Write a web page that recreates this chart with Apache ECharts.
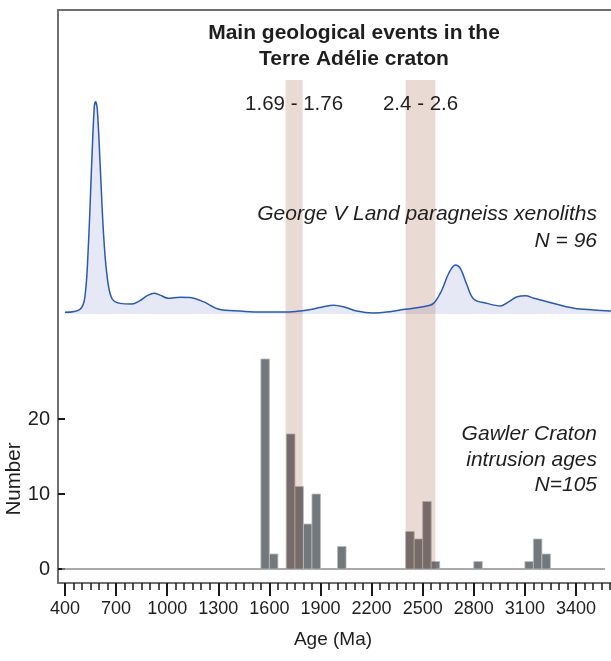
<!DOCTYPE html>
<html>
<head>
<meta charset="utf-8">
<script src="https://cdn.jsdelivr.net/npm/echarts@6/dist/echarts.min.js"></script>
<style>
  html, body { margin: 0; padding: 0; background: #ffffff; }
  #chart { width: 611px; height: 661px; }
</style>
</head>
<body>
<div id="chart"></div>
<script>
// Gawler Craton intrusion ages, histogram with 50 Ma bins (bin start, Ma)
const binStart = [1550, 1600, 1700, 1750, 1800, 1850, 2000, 2400, 2450, 2500, 2550, 2800, 3100, 3150, 3200];
const binCount = [28, 2, 18, 11, 6, 10, 3, 5, 4, 9, 1, 1, 1, 4, 2];
const binWidth = 50;

// George V Land paragneiss xenoliths: relative probability density (peak = 100)
const densityAge = [400, 488, 517, 537, 557, 572, 580, 590, 606, 625, 645, 674, 723, 792, 840, 880, 923, 958,
  1007, 1075, 1144, 1212, 1310, 1428, 1545, 1702, 1780, 1858, 1917, 1975, 2034, 2113, 2210, 2308, 2396,
  2543, 2573, 2613, 2653, 2692, 2721, 2756, 2799, 2878, 2957, 3006, 3055, 3104, 3153, 3231, 3389, 3506, 3605];
const densityVal = [0.8, 2.2, 8.1, 31.7, 71.1, 97.6, 100, 96.1, 71.1, 39.6, 19.3, 7.5, 5.0, 4.7, 6.3, 8.5, 9.8, 8.9,
  7.4, 7.9, 7.7, 5.8, 2.1, 1.4, 0.9, 0.9, 1.4, 2.4, 3.4, 4.1, 3.4, 1.4, 0.5, 1.1, 2.2,
  4.1, 5.8, 11.3, 19.2, 23.1, 21.5, 14.5, 7.1, 5.0, 3.8, 5.8, 8.1, 8.6, 7.4, 5.8, 2.7, 1.9, 1.4];

// Main geological events in the Terre Adélie craton (Ma)
const eventStart = [1695, 2400];
const eventEnd = [1795, 2575];
const eventLabels = ['1.69 - 1.76', '2.4 - 2.6'];

// Axis ticks
const ageMajorTicks = [400, 700, 1000, 1300, 1600, 1900, 2200, 2500, 2800, 3100, 3400];
const ageMinorStep = 50;
const countTicks = [0, 10, 20];
const histBaseline = [382, 3571];

const FONT = "'Liberation Sans', Arial, Helvetica, sans-serif";
const TXT = '#1e1e1e';
const FRAME = '#707070';

const ageMinorTicks = [];
for (let a = ageMajorTicks[0]; a <= 3600; a += ageMinorStep) ageMinorTicks.push(a);

const AGE_MIN = 359, AGE_MAX = 3605.6;
const BAND_TOP = 65.2;   // top of event bands, in count units
const BAND_LABEL = 61.9; // label height, in count units

const chart = echarts.init(document.getElementById('chart'), null, { renderer: 'canvas' });

const xBase = {
  type: 'value', gridIndex: 0, min: AGE_MIN, max: AGE_MAX,
  splitLine: { show: false }
};

chart.setOption({
  animation: false,
  backgroundColor: '#ffffff',
  grid: [{ left: 58, right: 0, top: 10, bottom: 78, containLabel: false }],
  xAxis: [
    Object.assign({}, xBase, {
      position: 'bottom',
      axisLine: { show: true, onZero: false, lineStyle: { color: FRAME, width: 2 } },
      axisTick: { show: true, customValues: ageMajorTicks, length: 13, lineStyle: { color: '#1a1a1a', width: 2 } },
      axisLabel: { show: true, customValues: ageMajorTicks, margin: 17, fontSize: 18, fontFamily: FONT, color: TXT,
        formatter: v => String(v) }
    }),
    Object.assign({}, xBase, {
      position: 'bottom',
      axisLine: { show: false, onZero: false },
      axisTick: { show: true, customValues: ageMinorTicks, length: 7, lineStyle: { color: '#1a1a1a', width: 1.5 } },
      axisLabel: { show: false }
    }),
    Object.assign({}, xBase, {
      position: 'top',
      axisLine: { show: true, onZero: false, lineStyle: { color: FRAME, width: 2 } },
      axisTick: { show: false },
      axisLabel: { show: false }
    })
  ],
  yAxis: [
    {
      type: 'value', gridIndex: 0, position: 'left', min: -1.8667, max: 74.533,
      splitLine: { show: false },
      axisLine: { show: true, onZero: false, lineStyle: { color: FRAME, width: 2 } },
      axisTick: { show: true, inside: true, customValues: countTicks, length: 7, lineStyle: { color: '#1a1a1a', width: 2 } },
      axisLabel: { show: true, customValues: countTicks, margin: 8, fontSize: 20, fontFamily: FONT, color: TXT }
    },
    {
      type: 'value', gridIndex: 0, position: 'left', min: -126.71, max: 143.19, show: false,
      splitLine: { show: false }
    }
  ],
  series: [
    {
      // zero line of the histogram
      type: 'line', xAxisIndex: 0, yAxisIndex: 0, z: 1,
      data: histBaseline.map(a => [a, 0]),
      showSymbol: false, silent: true,
      lineStyle: { color: '#8c8c8c', width: 1.5 }
    },
    {
      // density fill
      type: 'line', xAxisIndex: 0, yAxisIndex: 1, z: 1,
      data: densityAge.map((a, i) => [a, densityVal[i]]),
      smooth: 0.35, showSymbol: false, silent: true,
      lineStyle: { width: 0 },
      areaStyle: { color: '#e6e9f5', opacity: 1 }
    },
    {
      // intrusion age histogram
      type: 'custom', xAxisIndex: 0, yAxisIndex: 0, z: 2,
      data: binStart.map((s, i) => [s, s + binWidth, binCount[i]]),
      encode: { x: [0, 1], y: 2 },
      renderItem: function (params, api) {
        const p0 = api.coord([api.value(0), api.value(2)]);
        const p1 = api.coord([api.value(1), 0]);
        return {
          type: 'rect',
          shape: { x: p0[0], y: p0[1], width: p1[0] - p0[0], height: p1[1] - p0[1] },
          style: { fill: '#72787c', stroke: '#b9bcbe', lineWidth: 0.8 }
        };
      }
    },
    {
      // event bands with their age ranges (Ga)
      type: 'custom', xAxisIndex: 0, yAxisIndex: 0, z: 3,
      data: eventStart.map((s, i) => [s, eventEnd[i], i]),
      encode: { x: [0, 1] },
      renderItem: function (params, api) {
        const s = api.value(0), e = api.value(1);
        const p0 = api.coord([s, BAND_TOP]);
        const p1 = api.coord([e, 0]);
        const lab = api.coord([(s + e) / 2, BAND_LABEL]);
        return {
          type: 'group',
          children: [
            {
              type: 'rect',
              shape: { x: p0[0], y: p0[1], width: p1[0] - p0[0], height: p1[1] - p0[1] },
              style: { fill: 'rgba(138,49,16,0.18)' }
            },
            {
              type: 'text',
              style: {
                text: eventLabels[api.value(2)], x: lab[0], y: lab[1],
                textAlign: 'center', textVerticalAlign: 'middle',
                font: '20.5px ' + FONT, fill: TXT
              }
            }
          ]
        };
      }
    },
    {
      // density curve
      type: 'line', xAxisIndex: 0, yAxisIndex: 1, z: 4,
      data: densityAge.map((a, i) => [a, densityVal[i]]),
      smooth: 0.35, showSymbol: false, silent: true,
      lineStyle: { color: '#2a58b2', width: 1.5 }
    }
  ],
  graphic: [
    { type: 'text', x: 354, y: 33, z: 10, style: { text: 'Main geological events in the', textAlign: 'center', textVerticalAlign: 'middle', font: 'bold 21px ' + FONT, fill: TXT } },
    { type: 'text', x: 354, y: 59, z: 10, style: { text: 'Terre Adélie craton', textAlign: 'center', textVerticalAlign: 'middle', font: 'bold 21px ' + FONT, fill: TXT } },
    { type: 'text', x: 597, y: 214, z: 10, style: { text: 'George V Land paragneiss xenoliths', textAlign: 'right', textVerticalAlign: 'middle', font: 'italic 21px ' + FONT, fill: TXT } },
    { type: 'text', x: 597, y: 241, z: 10, style: { text: 'N = 96', textAlign: 'right', textVerticalAlign: 'middle', font: 'italic 21px ' + FONT, fill: TXT } },
    { type: 'text', x: 597, y: 434, z: 10, style: { text: 'Gawler Craton', textAlign: 'right', textVerticalAlign: 'middle', font: 'italic 21px ' + FONT, fill: TXT } },
    { type: 'text', x: 597, y: 460, z: 10, style: { text: 'intrusion ages', textAlign: 'right', textVerticalAlign: 'middle', font: 'italic 21px ' + FONT, fill: TXT } },
    { type: 'text', x: 597, y: 485, z: 10, style: { text: 'N=105', textAlign: 'right', textVerticalAlign: 'middle', font: 'italic 21px ' + FONT, fill: TXT } },
    { type: 'text', x: 14, y: 479, rotation: Math.PI / 2, z: 10, style: { text: 'Number', textAlign: 'center', textVerticalAlign: 'middle', font: '20.5px ' + FONT, fill: TXT } },
    { type: 'text', x: 333, y: 640, z: 10, style: { text: 'Age (Ma)', textAlign: 'center', textVerticalAlign: 'middle', font: '19px ' + FONT, fill: TXT } }
  ]
});
</script>
</body>
</html>
